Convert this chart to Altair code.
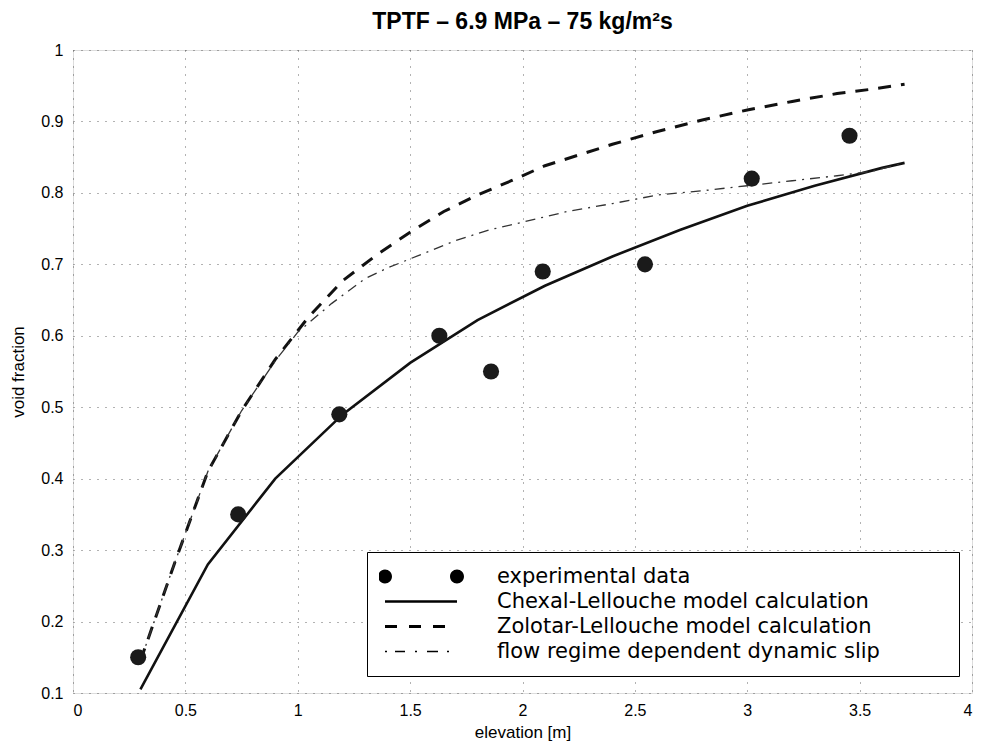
import altair as alt
import pandas as pd

# ---------------- data ----------------
exp_x = [0.29, 0.735, 1.185, 1.63, 1.86, 2.09, 2.545, 3.02, 3.455]
exp_y = [0.15, 0.35, 0.49, 0.60, 0.55, 0.69, 0.70, 0.82, 0.88]

chexal_x = [0.3, 0.6, 0.9, 1.2, 1.5, 1.8, 2.1, 2.4, 2.7, 3.0, 3.3, 3.6, 3.7]
chexal_y = [0.105, 0.28, 0.40, 0.49, 0.562, 0.622, 0.670, 0.711, 0.748, 0.782, 0.810, 0.835, 0.842]

zolotar_x = [0.3, 0.45, 0.6, 0.75, 0.9, 1.05, 1.2, 1.35, 1.5, 1.65, 1.8, 1.95, 2.1,
             2.25, 2.4, 2.6, 2.8, 3.0, 3.2, 3.4, 3.55, 3.7]
zolotar_y = [0.145, 0.28, 0.41, 0.495, 0.567, 0.627, 0.677, 0.713, 0.745, 0.774, 0.797, 0.817, 0.838,
             0.853, 0.868, 0.886, 0.902, 0.916, 0.928, 0.939, 0.945, 0.952]

flow_x = [0.3, 0.45, 0.6, 0.75, 0.9, 1.0, 1.15, 1.3, 1.4, 1.55, 1.7, 1.85, 2.0,
          2.2, 2.4, 2.6, 2.8, 3.0, 3.2, 3.4, 3.55, 3.7]
flow_y = [0.145, 0.28, 0.41, 0.495, 0.565, 0.605, 0.645, 0.68, 0.695, 0.714, 0.733, 0.748, 0.759,
          0.774, 0.785, 0.797, 0.803, 0.81, 0.817, 0.824, 0.83, 0.842]

legend_labels = [
    "experimental data",
    "Chexal-Lellouche model calculation",
    "Zolotar-Lellouche model calculation",
    "flow regime dependent dynamic slip",
]
# legend symbols (unit square paths, drawn 72 px wide)
legend_paths = [
    "M -1.194 0 A 0.194 0.194 0 1 0 -0.806 0 A 0.194 0.194 0 1 0 -1.194 0 Z "
    "M 0.806 0 A 0.194 0.194 0 1 0 1.194 0 A 0.194 0.194 0 1 0 0.806 0 Z",
    "M -1 -0.035 L 1 -0.035 L 1 0.035 L -1 0.035 Z",
    "M -1 -0.045 L -0.667 -0.045 L -0.667 0.045 L -1 0.045 Z "
    "M -0.333 -0.045 L 0 -0.045 L 0 0.045 L -0.333 0.045 Z "
    "M 0.333 -0.045 L 0.667 -0.045 L 0.667 0.045 L 0.333 0.045 Z",
    "M -1 -0.022 L -0.944 -0.022 L -0.944 0.022 L -1 0.022 Z "
    "M -0.722 -0.022 L -0.444 -0.022 L -0.444 0.022 L -0.722 0.022 Z "
    "M -0.167 -0.022 L -0.111 -0.022 L -0.111 0.022 L -0.167 0.022 Z "
    "M 0.167 -0.022 L 0.472 -0.022 L 0.472 0.022 L 0.167 0.022 Z "
    "M 0.722 -0.022 L 0.778 -0.022 L 0.778 0.022 L 0.722 0.022 Z",
]

x_ticks = [0, 0.5, 1, 1.5, 2, 2.5, 3, 3.5, 4]
y_ticks = [0.1, 0.2, 0.3, 0.4, 0.5, 0.6, 0.7, 0.8, 0.9, 1.0]

FONT = "Liberation Sans"
LEG_FONT = "DejaVu Sans"

exp_df = pd.DataFrame({"x": exp_x, "y": exp_y})
chexal_df = pd.DataFrame({"x": chexal_x, "y": chexal_y})
zolotar_df = pd.DataFrame({"x": zolotar_x, "y": zolotar_y})
flow_df = pd.DataFrame({"x": flow_x, "y": flow_y})
legend_df = pd.DataFrame({"series": legend_labels})

xscale = alt.Scale(domain=[0, 4], nice=False, zero=False)
yscale = alt.Scale(domain=[0.1, 1.0], nice=False, zero=False)

axis_common = dict(
    grid=True, gridDash=[1, 7], gridColor="#555", gridWidth=1, gridOpacity=0.9,
    ticks=False, domain=False, labelFont=FONT, labelFontSize=16, labelColor="black",
    titleFont=FONT, titleFontSize=17, titleColor="black", titleFontWeight="normal",
)
xaxis = alt.Axis(values=x_ticks, format="~g", title="elevation [m]", labelPadding=9,
                 titlePadding=6, **axis_common)
yaxis = alt.Axis(values=y_ticks, format="~g", title="void fraction", labelPadding=10,
                 titlePadding=13, **axis_common)

X = alt.X("x:Q", scale=xscale, axis=xaxis)
Y = alt.Y("y:Q", scale=yscale, axis=yaxis)

chexal = alt.Chart(chexal_df).mark_line(color="#111", strokeWidth=2.6).encode(x=X, y=Y)
zolotar = alt.Chart(zolotar_df).mark_line(color="#111", strokeWidth=3, strokeDash=[13, 10]).encode(x=X, y=Y)
flow = alt.Chart(flow_df).mark_line(color="#333", strokeWidth=1.3, strokeDash=[10, 6, 2, 6]).encode(x=X, y=Y)
points = alt.Chart(exp_df).mark_circle(color="#1a1a1a", size=260, opacity=1).encode(x=X, y=Y)

# widen the legend box to the reference's width (nbsp padding closed by a zero-width char)
pad_expr = "datum.label + '" + "\u00a0" * 10 + "\u200b'"

legend_layer = alt.Chart(legend_df).mark_point(filled=True, opacity=0, color="black").encode(
    shape=alt.Shape(
        "series:N",
        scale=alt.Scale(domain=legend_labels, range=legend_paths),
        legend=alt.Legend(
            title=None, orient="none", legendX=294, legendY=502,
            symbolSize=5184, clipHeight=25, rowPadding=0, padding=12, symbolOffset=6,
            labelOffset=40, labelFont=LEG_FONT, labelFontSize=21, labelColor="black",
            labelExpr=pad_expr, labelLimit=0, strokeColor="black", fillColor="white",
            symbolFillColor="black", symbolStrokeWidth=0, cornerRadius=0,
        ),
    )
)

chart = alt.layer(chexal, zolotar, flow, points, legend_layer).properties(
    width=899,
    height=643,
    title=alt.TitleParams(
        "TPTF – 6.9 MPa – 75 kg/m²s", font=FONT, fontSize=23, fontWeight="bold",
        color="black", anchor="middle", offset=8,
    ),
    autosize=alt.AutoSizeParams(type="none"),
    padding={"left": 65, "top": 42, "right": 2, "bottom": 52},
).configure_view(stroke="black", strokeWidth=1.2).configure(background="white")

chart.save("out.html", embed_options={"renderer": "svg", "actions": False})
